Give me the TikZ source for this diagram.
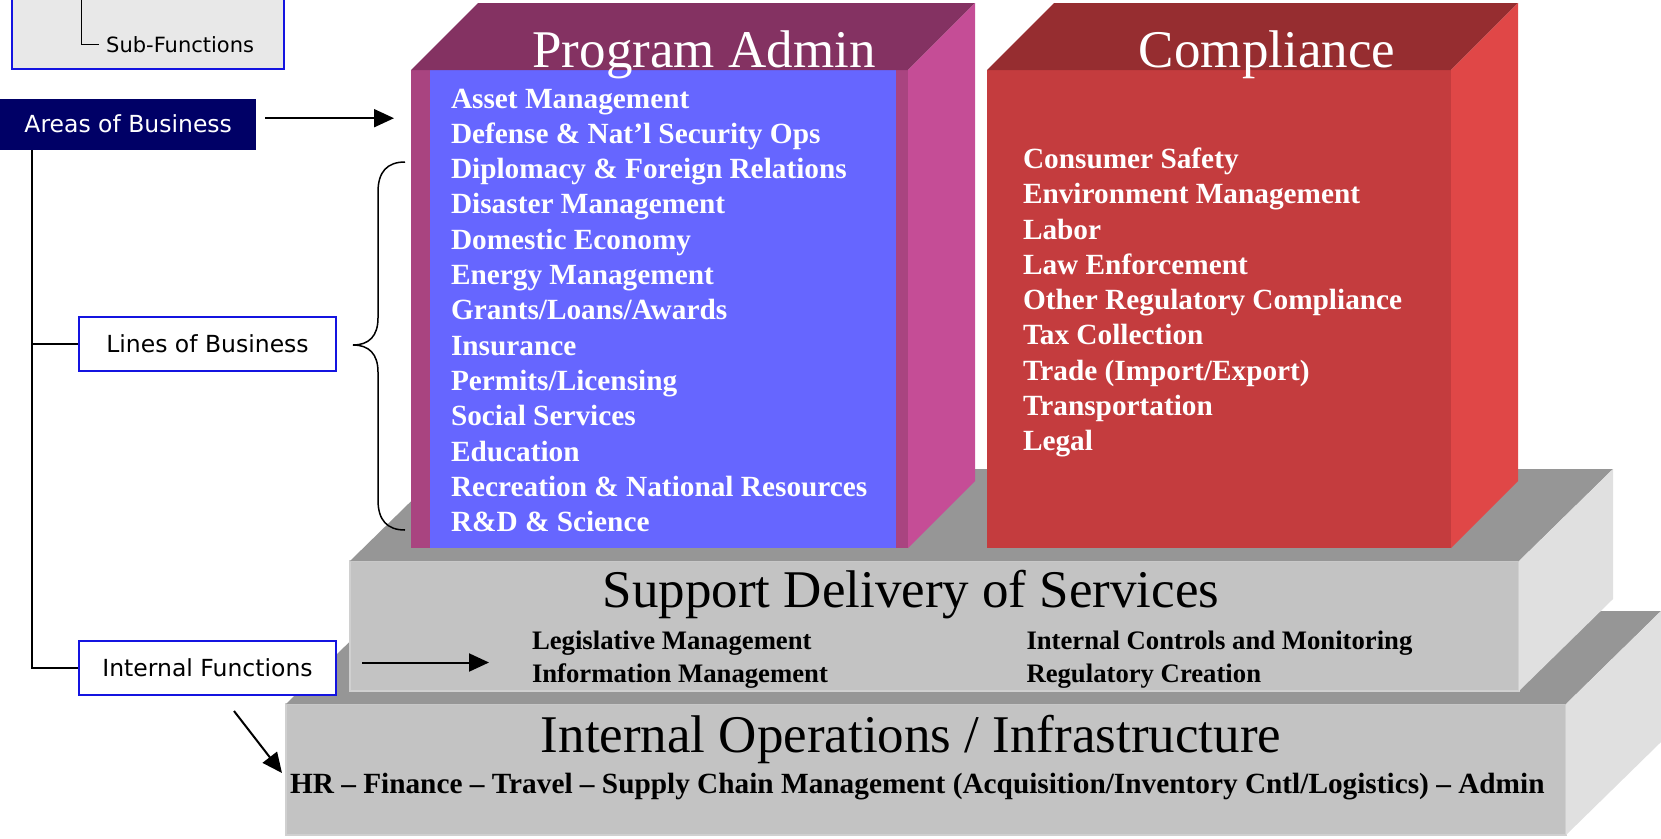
\documentclass[tikz,border=0pt]{standalone}
\usepackage{fontspec}
\setmainfont{Liberation Serif}
\newfontfamily\tahoma{DejaVu Sans}
\usepackage{tikz}
\usetikzlibrary{arrows.meta}
\usetikzlibrary{positioning}
\definecolor{paTop}{HTML}{843262}
\definecolor{paSide}{HTML}{C54D96}
\definecolor{paFront}{HTML}{A94480}
\definecolor{paInner}{HTML}{6666FF}
\definecolor{cpTop}{HTML}{962D30}
\definecolor{cpFront}{HTML}{C43C3E}
\definecolor{cpSide}{HTML}{E04747}
\definecolor{slabTop}{HTML}{969696}
\definecolor{slabFront}{HTML}{C3C3C3}
\definecolor{slabEdge}{HTML}{D0D0D0}
\definecolor{slabSide}{HTML}{E0E0E0}
\definecolor{legendGray}{HTML}{E8E8E8}
\definecolor{boxBlue}{HTML}{1414E0}
\definecolor{areaNavy}{HTML}{000066}
\tikzstyle{hit}=[-{Triangle[length=20pt,width=18pt]},line width=2pt]
\tikzstyle{tree}=[line width=2pt]
\tikzstyle{brace}=[line width=1.5pt]
\tikzstyle{Abox}=[draw=boxBlue,line width=2pt,fill=white,minimum width=257pt,minimum height=54pt,
                font=\tahoma\fontsize{23.5}{28}\selectfont]
\tikzstyle{Aarea}=[fill=areaNavy,text=white,minimum width=256pt,minimum height=51pt,
                font=\tahoma\fontsize{23.5}{28}\selectfont]
\tikzstyle{Alegend}=[draw=boxBlue,line width=2pt,fill=legendGray]
\tikzstyle{Asub}=[font=\tahoma\fontsize{21}{25}\selectfont,inner sep=0]
\tikzstyle{Ablock}=[inner sep=0,outer sep=0]
\tikzstyle{slab}=[draw=slabEdge,line width=2pt,fill=slabFront,inner sep=0,outer sep=0]
\tikzstyle{Atitle}=[font=\fontsize{53}{60}\selectfont,anchor=base,inner sep=0]
\tikzstyle{Aitem}=[font=\bfseries\fontsize{29.3}{35}\selectfont,text=white,inner sep=0,outer sep=0,
                text height=25pt,text depth=10.3pt,anchor=base west]
\tikzstyle{Mitem}=[font=\bfseries\fontsize{26.7}{33}\selectfont,inner sep=0,outer sep=0,
                text height=23pt,text depth=10pt,anchor=base west]
\tikzstyle{Hitem}=[font=\bfseries\fontsize{29.3}{35}\selectfont,inner sep=0,outer sep=0,
                text height=20pt,text depth=6pt,anchor=base west]
\tikzset{Anext/.style={below=0pt of #1.south west,anchor=north west}}

\begin{document}
\begin{tikzpicture}[x=1pt,y=-1pt]
\useasboundingbox (0,0) rectangle (1661,838);

% bottom slab
\node[slab,minimum width=1280pt,minimum height=131pt,anchor=north west] (iops) at (286,704) {};
\fill[slabTop] (iops.north west) -- ++(95,-93) -- ++(1280,0) -- (iops.north east) -- cycle;
\fill[slabSide] (iops.north east) -- ++(95,-93) -- ++(0,131) -- (iops.south east) -- cycle;

% middle slab
\node[slab,minimum width=1169pt,minimum height=130pt,anchor=north west] (sds) at (350,561) {};
\fill[slabTop] (sds.north west) -- ++(94,-92) -- ++(1169,0) -- (sds.north east) -- cycle;
\fill[slabSide] (sds.north east) -- ++(94,-92) -- ++(0,130) -- (sds.south east) -- cycle;

% program admin block
\node[Ablock,fill=paFront,minimum width=497pt,minimum height=478pt,anchor=north west] (pa) at (411,70) {};
\node[Ablock,fill=paInner,minimum width=466pt,minimum height=478pt,anchor=north west] (pain) at (430,70) {};
\fill[paTop] (pa.north west) -- ++(67,-67) -- ++(497,0) -- (pa.north east) -- cycle;
\fill[paSide] (pa.north east) -- ++(67,-67) -- ++(0,478) -- (pa.south east) -- cycle;

% compliance block
\node[Ablock,fill=cpFront,minimum width=464pt,minimum height=478pt,anchor=north west] (cp) at (987,70) {};
\fill[cpTop] (cp.north west) -- ++(67,-67) -- ++(464,0) -- (cp.north east) -- cycle;
\fill[cpSide] (cp.north east) -- ++(67,-67) -- ++(0,478) -- (cp.south east) -- cycle;

\node[Atitle,text=white] (paT) at (704,67) {Program Admin};
\node[Atitle,text=white] (cpT) at (1267,67) {Compliance};
\node[Atitle] (sdsT) at (911,607) {Support Delivery of Services};
\node[Atitle] (iopsT) at (911,752) {Internal Operations / Infrastructure};

\node[Aitem] (pa1) at (451,108) {Asset Management};
\node[Aitem,Anext=pa1] (pa2) {Defense \& Nat'l Security Ops};
\node[Aitem,Anext=pa2] (pa3) {Diplomacy \& Foreign Relations};
\node[Aitem,Anext=pa3] (pa4) {Disaster Management};
\node[Aitem,Anext=pa4] (pa5) {Domestic Economy};
\node[Aitem,Anext=pa5] (pa6) {Energy Management};
\node[Aitem,Anext=pa6] (pa7) {Grants/Loans/Awards};
\node[Aitem,Anext=pa7] (pa8) {Insurance};
\node[Aitem,Anext=pa8] (pa9) {Permits/Licensing};
\node[Aitem,Anext=pa9] (pa10) {Social Services};
\node[Aitem,Anext=pa10] (pa11) {Education};
\node[Aitem,Anext=pa11] (pa12) {Recreation \& National Resources};
\node[Aitem,Anext=pa12] (pa13) {R\&D \& Science};

\node[Aitem] (cp1) at (1023,168.4) {Consumer Safety};
\node[Aitem,Anext=cp1] (cp2) {Environment Management};
\node[Aitem,Anext=cp2] (cp3) {Labor};
\node[Aitem,Anext=cp3] (cp4) {Law Enforcement};
\node[Aitem,Anext=cp4] (cp5) {Other Regulatory Compliance};
\node[Aitem,Anext=cp5] (cp6) {Tax Collection};
\node[Aitem,Anext=cp6] (cp7) {Trade (Import/Export)};
\node[Aitem,Anext=cp7] (cp8) {Transportation};
\node[Aitem,Anext=cp8] (cp9) {Legal};

\node[Mitem] (lm) at (532,649) {Legislative Management};
\node[Mitem,Anext=lm] (im) {Information Management};
\node[Mitem] (ic) at (1026.5,649) {Internal Controls and Monitoring};
\node[Mitem,Anext=ic] (rc) {Regulatory Creation};
\node[Hitem] (hr) at (290,793) {HR -- Finance -- Travel -- Supply Chain Management (Acquisition/Inventory Cntl/Logistics) -- Admin};

% left hand side
\node[Alegend,anchor=south west,minimum width=272pt,minimum height=100pt] (legend) at (10.6,70) {};
\node[Asub,anchor=west] (subfn) at (106,44.5) {Sub-Functions};
\draw[brace] ([xshift=71pt]legend.north west) |- ([xshift=-7pt]subfn.west);

\node[Aarea,anchor=north west] (areas) at (0,98.5) {Areas of Business};
\node[Abox] (lob) at (207.5,344) {Lines of Business};
\node[Abox,below=268pt of lob] (intfn) {Internal Functions};

\draw[tree] ([xshift=32pt]areas.south west) |- (lob.west);
\draw[tree] ([xshift=32pt]areas.south west) |- (intfn.west);

\draw[hit,shorten <=9pt,shorten >=17pt] ([yshift=6pt]areas.east) -- ([yshift=6pt]areas.east -| pa.west);
\draw[hit,shorten <=25pt,shorten >=43pt] ([yshift=5.5pt]intfn.east) -- ([yshift=5.5pt]intfn.east -| lm.west);
\draw[hit] ([shift={(26.5pt,-15pt)}]intfn.south) -- ([shift={(-8pt,13pt)}]hr.west);

\draw[brace] (405,162) .. controls (387,162) and (378,172) .. (378,192) -- (378,318)
  .. controls (378,336) and (369,345) .. (353,345) .. controls (369,345) and (378,354) .. (378,372)
  -- (378,500) .. controls (378,520) and (387,530) .. (405,530);
\end{tikzpicture}
\end{document}
